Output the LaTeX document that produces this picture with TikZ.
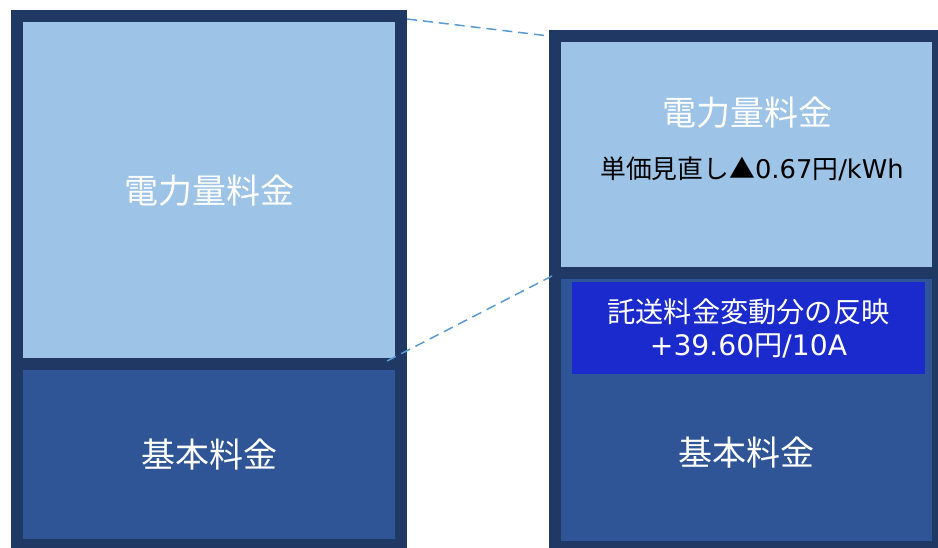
\documentclass[tikz,border=0pt]{standalone}
\usepackage{fontspec}
\setmainfont{Noto Sans CJK JP}
\newfontfamily\latinfont{DejaVu Sans}
\definecolor{framedark}{HTML}{1F3864}
\definecolor{energyblue}{HTML}{9DC3E6}
\definecolor{baseblue}{HTML}{2F5597}
\definecolor{transferblue}{HTML}{1B2ACC}
\definecolor{guideblue}{HTML}{5B9BD5}
\begin{document}
\begin{tikzpicture}[x=1pt, y=-1pt,
    every node/.style = {inner sep=0pt, outer sep=0pt},
    box/.style = {draw=framedark, line width=12pt},
    bigtext/.style = {text=white, font=\fontsize{34}{40}\selectfont},
    guide/.style = {draw=guideblue, line width=1.5pt, dash pattern=on 10pt off 6pt}]
    \useasboundingbox (0,0) rectangle (938,548);
    \clip (0,0) rectangle (938,548);

    % before
    \node[box, fill=baseblue, minimum width=384pt, minimum height=181pt, bigtext] (leftbase) at (209,454.5) {基本料金};
    \node[box, fill=energyblue, minimum width=384pt, minimum height=347.5pt, bigtext] (leftenergy) at (209,190.25) {電力量料金};

    % after
    \node[box, fill=baseblue, minimum width=383pt, minimum height=274pt] (rightbase) at (746.5,410) {};
    \node[box, fill=energyblue, minimum width=383pt, minimum height=236.5pt] (rightenergy) at (746.5,154.75) {};
    \node[bigtext] (rightenergytext) at (747,113) {電力量料金};
    \node[font=\fontsize{25.8}{30}\selectfont] (unitprice) at (752,169) {単価見直し▲{\latinfont 0.67}円{\latinfont /kWh}};
    \node[fill=transferblue, minimum width=353pt, minimum height=92pt, text=white, align=center,
          font=\fontsize{28.2}{33}\selectfont] (transfer) at (748.5,328)
          {託送料金変動分の反映\\{\latinfont +39.60}円{\latinfont /10A}};
    \node[bigtext] (rightbasetext) at (746,453) {基本料金};

    \coordinate (uppera) at (407,19);
    \coordinate (upperb) at (549,36);
    \coordinate (lowera) at (387,361);
    \coordinate (lowerb) at (552,276);
    \draw[guide] (uppera) -- (upperb);
    \draw[guide] (lowera) -- (lowerb);
\end{tikzpicture}
\end{document}
